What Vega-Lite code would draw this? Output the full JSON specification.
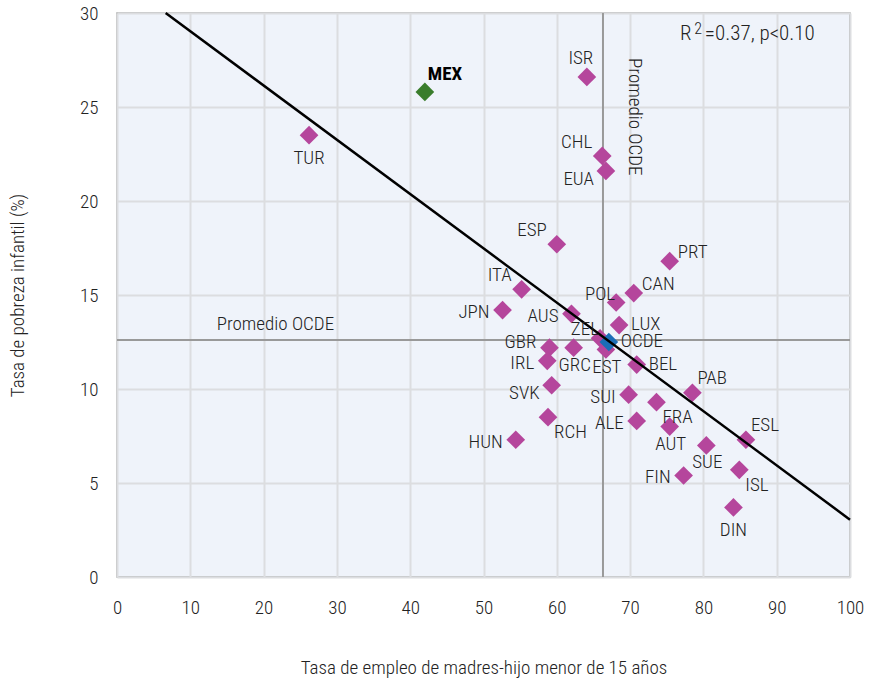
{
  "$schema": "https://vega.github.io/schema/vega-lite/v6.json",
  "width": 733,
  "height": 564,
  "autosize": {"type": "none"},
  "padding": {"left": 117, "top": 13, "right": 21, "bottom": 106},
  "background": "white",
  "config": {
    "font": "Roboto Condensed, Liberation Sans Narrow, DejaVu Sans Condensed, Roboto, sans-serif",
    "view": {"fill": "#EFF3FA", "stroke": "#aaaaaa", "strokeWidth": 1.5},
    "axis": {
      "grid": true, "gridColor": "#dcdde0", "gridWidth": 2,
      "domain": false, "ticks": false, "labelFlush": false,
      "labelFontSize": 19, "labelFontWeight": 300, "labelColor": "#222222", "labelPadding": 19,
      "titleFontSize": 19, "titleColor": "#222222", "titleFontWeight": 300
    },
    "text": {"fontSize": 19, "fontWeight": 300, "color": "#222222", "baseline": "middle"}
  },
  "datasets": {
    "pts": [
      {"name": "MEX", "x": 42.0, "y": 25.8, "grp": "MEX", "pos": "mex"},
      {"name": "TUR", "x": 26.2, "y": 23.5, "grp": "país", "pos": "ss"},
      {"name": "ISR", "x": 64.1, "y": 26.6, "grp": "país", "pos": "n"},
      {"name": "CHL", "x": 66.2, "y": 22.4, "grp": "país", "pos": "nw"},
      {"name": "EUA", "x": 66.7, "y": 21.6, "grp": "país", "pos": "wsw"},
      {"name": "ESP", "x": 60.0, "y": 17.7, "grp": "país", "pos": "nw"},
      {"name": "PRT", "x": 75.4, "y": 16.8, "grp": "país", "pos": "ene"},
      {"name": "CAN", "x": 70.5, "y": 15.1, "grp": "país", "pos": "ene"},
      {"name": "ITA", "x": 55.2, "y": 15.3, "grp": "país", "pos": "nw"},
      {"name": "JPN", "x": 52.6, "y": 14.2, "grp": "país", "pos": "w"},
      {"name": "POL", "x": 68.1, "y": 14.6, "grp": "país", "pos": "nnw"},
      {"name": "AUS", "x": 62.0, "y": 14.0, "grp": "país", "pos": "w"},
      {"name": "LUX", "x": 68.5, "y": 13.4, "grp": "país", "pos": "e"},
      {"name": "ZEL", "x": 65.9, "y": 12.7, "grp": "país", "pos": "nnw"},
      {"name": "GBR", "x": 59.0, "y": 12.2, "grp": "país", "pos": "wnw"},
      {"name": "GRC", "x": 62.3, "y": 12.2, "grp": "país", "pos": "s"},
      {"name": "IRL", "x": 58.7, "y": 11.5, "grp": "país", "pos": "w"},
      {"name": "EST", "x": 66.7, "y": 12.1, "grp": "país", "pos": "s"},
      {"name": "BEL", "x": 70.9, "y": 11.3, "grp": "país", "pos": "e"},
      {"name": "SVK", "x": 59.3, "y": 10.2, "grp": "país", "pos": "wsw"},
      {"name": "PAB", "x": 78.5, "y": 9.8, "grp": "país", "pos": "ne"},
      {"name": "SUI", "x": 69.8, "y": 9.7, "grp": "país", "pos": "w"},
      {"name": "FRA", "x": 73.6, "y": 9.3, "grp": "país", "pos": "se"},
      {"name": "ALE", "x": 70.9, "y": 8.3, "grp": "país", "pos": "w"},
      {"name": "RCH", "x": 58.8, "y": 8.5, "grp": "país", "pos": "se"},
      {"name": "HUN", "x": 54.4, "y": 7.3, "grp": "país", "pos": "w"},
      {"name": "AUT", "x": 75.4, "y": 8.0, "grp": "país", "pos": "s"},
      {"name": "ESL", "x": 85.8, "y": 7.3, "grp": "país", "pos": "ne"},
      {"name": "SUE", "x": 80.4, "y": 7.0, "grp": "país", "pos": "s"},
      {"name": "FIN", "x": 77.3, "y": 5.4, "grp": "país", "pos": "w"},
      {"name": "ISL", "x": 84.9, "y": 5.7, "grp": "país", "pos": "se"},
      {"name": "DIN", "x": 84.1, "y": 3.7, "grp": "país", "pos": "ss"},
      {"name": "OCDE", "x": 67.1, "y": 12.5, "grp": "OCDE", "pos": "e"}
    ],
    "lines": [
      {"kind": "avg", "x": 66.3, "y": 0, "x2": 66.3, "y2": 30},
      {"kind": "avg", "x": 0, "y": 12.6, "x2": 100, "y2": 12.6},
      {"kind": "fit", "x": 6.64, "y": 30, "x2": 100, "y2": 3.05}
    ],
    "notes": [
      {"text": "Promedio OCDE", "x": 13.6, "y": 12.6, "kind": "h"},
      {"text": "Promedio OCDE", "x": 70.7, "y": 27.6, "kind": "v"},
      {"text": "R", "x": 76.8, "y": 28.88, "kind": "r"},
      {"text": "2", "x": 78.76, "y": 29.15, "kind": "sup"},
      {"text": "=0.37, p<0.10", "x": 80.2, "y": 28.88, "kind": "r"}
    ]
  },
  "encoding": {
    "x": {"field": "x", "type": "quantitative",
          "scale": {"domain": [0, 100], "nice": false, "zero": false},
          "axis": {"values": [0, 10, 20, 30, 40, 50, 60, 70, 80, 90, 100],
                   "title": "Tasa de empleo de madres-hijo menor de 15 años",
                   "labelPadding": 21,
                   "titlePadding": 41}},
    "y": {"field": "y", "type": "quantitative",
          "scale": {"domain": [0, 30], "nice": false, "zero": false},
          "axis": {"values": [0, 5, 10, 15, 20, 25, 30],
                   "title": "Tasa de pobreza infantil (%)",
                   "titlePadding": 52}}
  },
  "layer": [
    {
      "data": {"name": "lines"},
      "transform": [{"filter": "datum.kind === 'avg'"}],
      "mark": {"type": "rule", "color": "#999999", "strokeWidth": 2},
      "encoding": {"x2": {"field": "x2"}, "y2": {"field": "y2"}}
    },
    {
      "data": {"name": "pts"},
      "mark": {"type": "point", "shape": "diamond", "filled": true, "size": 350, "opacity": 1},
      "encoding": {
        "color": {"field": "grp", "type": "nominal", "legend": null,
                  "scale": {"domain": ["país", "MEX", "OCDE"], "range": ["#B5469C", "#3A7D2C", "#1C6EB7"]}}
      }
    },
    {
      "data": {"name": "lines"},
      "transform": [{"filter": "datum.kind === 'fit'"}],
      "mark": {"type": "rule", "color": "#000000", "strokeWidth": 2.5},
      "encoding": {"x2": {"field": "x2"}, "y2": {"field": "y2"}}
    },
    {
      "data": {"name": "pts"},
      "transform": [{"filter": "datum.pos === 'mex'"}],
      "mark": {"type": "text", "align": "left", "dx": 3, "dy": -18, "fontWeight": "bold", "color": "#000000"},
      "encoding": {"text": {"field": "name"}}
    },
    {
      "data": {"name": "pts"},
      "transform": [{"filter": "datum.pos === 'w'"}],
      "mark": {"type": "text", "align": "right", "dx": -13, "dy": 2},
      "encoding": {"text": {"field": "name"}}
    },
    {
      "data": {"name": "pts"},
      "transform": [{"filter": "datum.pos === 'wsw'"}],
      "mark": {"type": "text", "align": "right", "dx": -12, "dy": 8},
      "encoding": {"text": {"field": "name"}}
    },
    {
      "data": {"name": "pts"},
      "transform": [{"filter": "datum.pos === 'wnw'"}],
      "mark": {"type": "text", "align": "right", "dx": -13, "dy": -6},
      "encoding": {"text": {"field": "name"}}
    },
    {
      "data": {"name": "pts"},
      "transform": [{"filter": "datum.pos === 'nw'"}],
      "mark": {"type": "text", "align": "right", "dx": -10, "dy": -14},
      "encoding": {"text": {"field": "name"}}
    },
    {
      "data": {"name": "pts"},
      "transform": [{"filter": "datum.pos === 'nnw'"}],
      "mark": {"type": "text", "align": "right", "dx": -1, "dy": -9},
      "encoding": {"text": {"field": "name"}}
    },
    {
      "data": {"name": "pts"},
      "transform": [{"filter": "datum.pos === 'n'"}],
      "mark": {"type": "text", "align": "center", "dx": -6, "dy": -19},
      "encoding": {"text": {"field": "name"}}
    },
    {
      "data": {"name": "pts"},
      "transform": [{"filter": "datum.pos === 'ne'"}],
      "mark": {"type": "text", "align": "left", "dx": 5, "dy": -15},
      "encoding": {"text": {"field": "name"}}
    },
    {
      "data": {"name": "pts"},
      "transform": [{"filter": "datum.pos === 'ene'"}],
      "mark": {"type": "text", "align": "left", "dx": 8, "dy": -9},
      "encoding": {"text": {"field": "name"}}
    },
    {
      "data": {"name": "pts"},
      "transform": [{"filter": "datum.pos === 'e'"}],
      "mark": {"type": "text", "align": "left", "dx": 12, "dy": -1},
      "encoding": {"text": {"field": "name"}}
    },
    {
      "data": {"name": "pts"},
      "transform": [{"filter": "datum.pos === 's'"}],
      "mark": {"type": "text", "align": "center", "dx": 1, "dy": 17},
      "encoding": {"text": {"field": "name"}}
    },
    {
      "data": {"name": "pts"},
      "transform": [{"filter": "datum.pos === 'ss'"}],
      "mark": {"type": "text", "align": "center", "dx": 0, "dy": 23},
      "encoding": {"text": {"field": "name"}}
    },
    {
      "data": {"name": "pts"},
      "transform": [{"filter": "datum.pos === 'se'"}],
      "mark": {"type": "text", "align": "left", "dx": 6, "dy": 15},
      "encoding": {"text": {"field": "name"}}
    },
    {
      "data": {"name": "notes"},
      "transform": [{"filter": "datum.kind === 'h'"}],
      "mark": {"type": "text", "align": "left", "dy": -16},
      "encoding": {"text": {"field": "text"}}
    },
    {
      "data": {"name": "notes"},
      "transform": [{"filter": "datum.kind === 'v'"}],
      "mark": {"type": "text", "align": "left", "angle": 90},
      "encoding": {"text": {"field": "text"}}
    },
    {
      "data": {"name": "notes"},
      "transform": [{"filter": "datum.kind === 'r'"}],
      "mark": {"type": "text", "align": "left", "fontSize": 21},
      "encoding": {"text": {"field": "text"}}
    },
    {
      "data": {"name": "notes"},
      "transform": [{"filter": "datum.kind === 'sup'"}],
      "mark": {"type": "text", "align": "left", "fontSize": 16},
      "encoding": {"text": {"field": "text"}}
    }
  ]
}
